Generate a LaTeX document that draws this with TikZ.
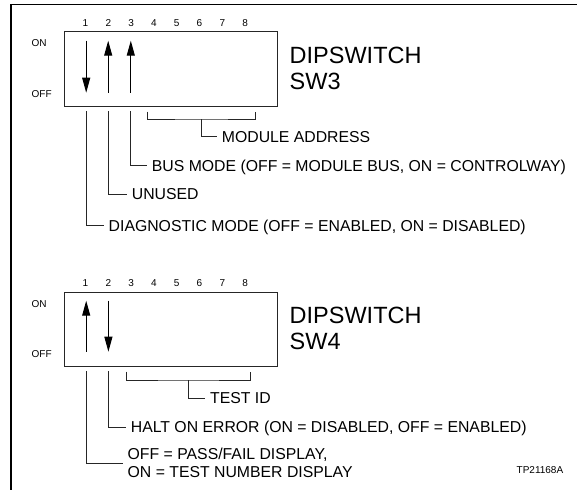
\documentclass[tikz,border=0pt]{standalone}
\usepackage{fontspec}
\setmainfont{Liberation Sans}
\usetikzlibrary{arrows.meta}
\tikzset{
  frameline/.style={line width=1.6pt},
  dipbox/.style={draw=black!85, line width=0.9pt, minimum width=213pt, minimum height=75pt, inner sep=0pt, anchor=north west},
  small/.style={font=\fontsize{10}{12}\selectfont, inner sep=0pt, text height=7.2pt, text depth=0pt},
  lbl/.style={font=\fontsize{15.8}{18.3}\selectfont, inner xsep=5pt, inner ysep=0pt, text height=11.3pt, text depth=0pt, anchor=west},
  lbltwo/.style={font=\fontsize{15.8}{18.3}\selectfont, inner xsep=5pt, inner ysep=0pt, align=left, anchor=west},
  big/.style={font=\fontsize{23.5}{26}\selectfont, inner sep=0pt, align=left, anchor=north west},
  sw/.style={line width=1pt, -{Triangle[length=15pt,width=8pt]}},
  lead/.style={line width=0.9pt, black!85}
}
\begin{document}
\begin{tikzpicture}[x=1pt,y=1pt]
\useasboundingbox (0,0) rectangle (577,-490);
% outer frame
\draw[frameline] (577,-4.3) -- (11,-4.3) -- (11,-490);

% ================= SW3 =================
\node[dipbox] (b3) at (64,-31) {};
\foreach \i in {1,...,8} \node[small] (n3\i) at ({85.5+22.8*(\i-1)},-23) {\i};
\node[small, anchor=west] (on3) at (31.5,-43) {ON};
\node[small, anchor=west] (off3) at (31.5,-94) {OFF};
\node[big] (t3) at (289.5,-46.5) {DIPSWITCH\\SW3};
% switches
\coordinate (s31t) at (86.2,-40.7); \coordinate (s31b) at (86.2,-92.7);
\coordinate (s32t) at (108.2,-40.7); \coordinate (s32b) at (108.2,-92.7);
\coordinate (s33t) at (130.8,-40.7); \coordinate (s33b) at (130.8,-92.7);
\draw[sw] (s31t) -- (s31b);
\draw[sw] (s32b) -- (s32t);
\draw[sw] (s33b) -- (s33t);
% labels
\node[lbl] (mod) at (216.7,-136.7) {MODULE ADDRESS};
\node[lbl] (bus) at (146.7,-165.7) {BUS MODE (OFF = MODULE BUS, ON = CONTROLWAY)};
\node[lbl] (unu) at (126.7,-194) {UNUSED};
\node[lbl] (diag) at (103.5,-225.7) {DIAGNOSTIC MODE (OFF = ENABLED, ON = DISABLED)};
% bracket 4-8
\coordinate (br3a) at (147.7,-111.7);
\coordinate (br3b) at (255,-111.7);
\coordinate (br3m) at (201.5,-119);
\draw[lead] (br3a) |- (br3m) -| (br3b);
\draw[lead] (br3m) |- (mod.west);
% leaders
\coordinate (l33) at (130.8,-111); \draw[lead] (l33) |- (bus.west);
\coordinate (l32) at (108.2,-111); \draw[lead] (l32) |- (unu.west);
\coordinate (l31) at (86.2,-111); \draw[lead] (l31) |- (diag.west);

% ================= SW4 =================
\node[dipbox, minimum height=74.3pt] (b4) at (64,-291.7) {};
\foreach \i in {1,...,8} \node[small] (n4\i) at ({85.5+22.8*(\i-1)},-283.3) {\i};
\node[small, anchor=west] (on4) at (31.5,-304.3) {ON};
\node[small, anchor=west] (off4) at (31.5,-354.3) {OFF};
\node[big] (t4) at (289.5,-307.2) {DIPSWITCH\\SW4};
% switches
\coordinate (s41t) at (86.2,-300.7); \coordinate (s41b) at (86.2,-351.7);
\coordinate (s42t) at (108.4,-300.7); \coordinate (s42b) at (108.4,-351.7);
\draw[sw] (s41b) -- (s41t);
\draw[sw] (s42t) -- (s42b);
% labels
\node[lbl] (tid) at (205,-398.3) {TEST ID};
\node[lbl] (halt) at (125.7,-427) {HALT ON ERROR (ON = DISABLED, OFF = ENABLED)};
\node[lbltwo] (pf) at (122.5,-463) {OFF = PASS/FAIL DISPLAY,\\ON = TEST NUMBER DISPLAY};
% bracket 3-8
\coordinate (br4a) at (126,-371.7);
\coordinate (br4b) at (250.7,-371.7);
\coordinate (br4m) at (188.5,-380);
\draw[lead] (br4a) |- (br4m) -| (br4b);
\draw[lead] (br4m) |- (tid.west);
% leaders
\coordinate (l42) at (108.4,-371); \draw[lead] (l42) |- (halt.west);
\coordinate (l41) at (86.2,-371); \draw[lead] (l41) |- (pf.west);

\node[small, anchor=west] (tp) at (516.5,-470) {TP21168A};
\end{tikzpicture}
\end{document}
